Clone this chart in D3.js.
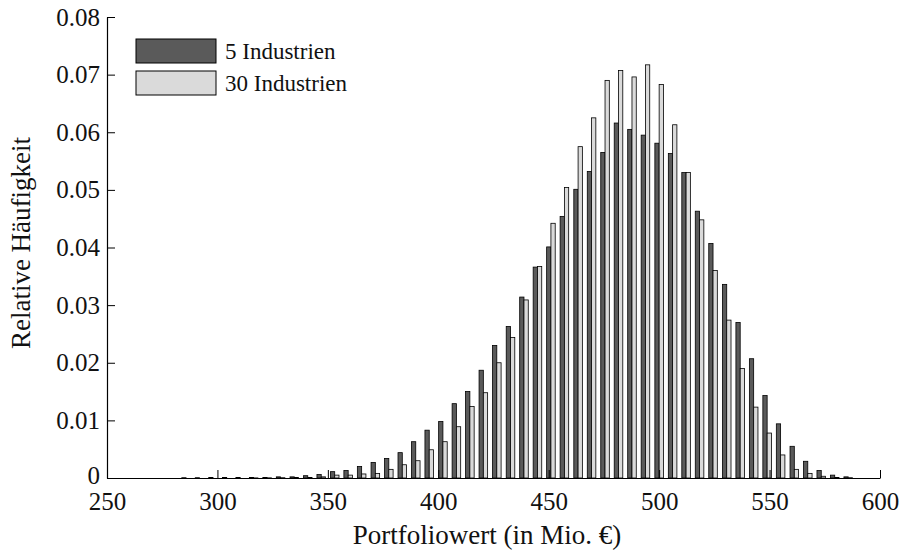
<!DOCTYPE html>
<html>
<head>
<meta charset="utf-8">
<script src="https://cdn.jsdelivr.net/npm/d3@7"></script>
<style>
  body { margin: 0; background: #fff; }
  svg { display: block; font-family: "Liberation Serif", serif; }
</style>
</head>
<body>
<div id="chart"></div>
<script>
// bin centres (Portfoliowert, Mio. EUR)
var binCenters = [285.8, 291.9, 298.0, 304.2, 310.3, 316.4, 322.5, 328.6, 334.8, 340.9,
                  347.0, 353.1, 359.2, 365.3, 371.5, 377.6, 383.7, 389.8, 395.9, 402.1,
                  408.2, 414.3, 420.4, 426.5, 432.7, 438.8, 444.9, 451.0, 457.1, 463.3,
                  469.4, 475.5, 481.6, 487.7, 493.8, 500.0, 506.1, 512.2, 518.3, 524.4,
                  530.6, 536.7, 542.8, 548.9, 555.0, 561.2, 567.3, 573.4, 579.5, 585.6];

var fiveInd = [0.00005, 0.00005, 0.0001, 0.0001, 0.0001, 0.0001, 0.0001, 0.0002, 0.0002, 0.0004,
               0.0006, 0.0011, 0.0013, 0.0020, 0.0027, 0.0034, 0.0044, 0.0063, 0.0083, 0.0098,
               0.0129, 0.0150, 0.0187, 0.0230, 0.0263, 0.0314, 0.0366, 0.0401, 0.0454, 0.0501,
               0.0532, 0.0565, 0.0616, 0.0605, 0.0595, 0.0581, 0.0563, 0.0530, 0.0463, 0.0407,
               0.0336, 0.0270, 0.0207, 0.0143, 0.0094, 0.0055, 0.0029, 0.0013, 0.0005, 0.0002];

var thirtyInd = [0, 0, 0, 0, 0, 0.00002, 0.00003, 0.00005, 0.0001, 0.0001,
                 0.0002, 0.0005, 0.0005, 0.0007, 0.0008, 0.0015, 0.0023, 0.0030, 0.0049, 0.0063,
                 0.0089, 0.0124, 0.0148, 0.0200, 0.0244, 0.0309, 0.0367, 0.0442, 0.0504, 0.0575,
                 0.0625, 0.0690, 0.0707, 0.0696, 0.0717, 0.0683, 0.0613, 0.0530, 0.0448, 0.0360,
                 0.0274, 0.0190, 0.0123, 0.0078, 0.0040, 0.0015, 0.0008, 0.0003, 0.0001, 0.00005];

var seriesNames = ['5 Industrien', '30 Industrien'];
var seriesColors = ['#5a5a5a', '#dadada'];

var xTicks = [250, 300, 350, 400, 450, 500, 550, 600];
var yTicks = [0, 0.01, 0.02, 0.03, 0.04, 0.05, 0.06, 0.07, 0.08];

var W = 901, H = 552;
var margin = {top: 17, right: 21, bottom: 74, left: 107};

var svg = d3.select('#chart').append('svg')
    .attr('width', W)
    .attr('height', H);

var x = d3.scaleLinear()
    .domain([250, 600])
    .range([margin.left, W - margin.right]);

var y = d3.scaleLinear()
    .domain([0, 0.08])
    .range([H - margin.bottom, margin.top]);

var binStep = binCenters[1] - binCenters[0];
var barW = x(binStep * 0.318) - x(0);

var series = [fiveInd, thirtyInd];

series.forEach(function(vals, s) {
    svg.append('g')
        .attr('class', 'bars-' + s)
      .selectAll('rect')
      .data(vals)
      .enter().append('rect')
        .attr('x', function(d, i) { return x(binCenters[i]) + (s - 1) * barW; })
        .attr('y', function(d) { return y(d); })
        .attr('width', barW)
        .attr('height', function(d) { return y(0) - y(d); })
        .attr('fill', seriesColors[s])
        .attr('stroke', '#000')
        .attr('stroke-width', 0.8);
});

// axes, ticks pointing inward
svg.append('g')
    .attr('transform', 'translate(0,' + y(0) + ')')
    .call(d3.axisBottom(x)
        .tickValues(xTicks)
        .tickSize(-8)
        .tickSizeOuter(0)
        .tickPadding(14)
        .tickFormat(d3.format('d')));

var yAxis = svg.append('g')
    .attr('transform', 'translate(' + x(250) + ',0)')
    .call(d3.axisLeft(y)
        .tickValues(yTicks)
        .tickSize(-8)
        .tickSizeOuter(0)
        .tickPadding(7)
        .tickFormat(function(d) { return d === 0 ? '0' : d3.format('.2f')(d); }));

// lift the "0" a little so it clears the "250" below it
yAxis.selectAll('.tick text').filter(function(d) { return d === 0; }).attr('dy', '0.2em');

svg.selectAll('.domain').attr('stroke', '#000').attr('stroke-width', 1.2);
svg.selectAll('.tick line').attr('stroke', '#000').attr('stroke-width', 1);
svg.selectAll('.tick text')
    .attr('fill', '#111')
    .style('font-family', '"Liberation Serif", serif')
    .style('font-size', '25px');

// axis titles
svg.append('text')
    .attr('x', 487)
    .attr('y', 544)
    .attr('text-anchor', 'middle')
    .style('font-size', '27px')
    .attr('fill', '#111')
    .text('Portfoliowert (in Mio. €)');

svg.append('text')
    .attr('transform', 'translate(30,243) rotate(-90)')
    .attr('text-anchor', 'middle')
    .style('font-size', '27px')
    .attr('fill', '#111')
    .text('Relative Häufigkeit');

// legend
var legend = svg.append('g').attr('class', 'legend');
seriesNames.forEach(function(name, i) {
    var gy = 39 + i * 32;
    legend.append('rect')
        .attr('x', 136)
        .attr('y', gy)
        .attr('width', 80)
        .attr('height', 24)
        .attr('fill', seriesColors[i])
        .attr('stroke', '#000')
        .attr('stroke-width', 1);
    legend.append('text')
        .attr('x', 225)
        .attr('y', gy + 12)
        .attr('dy', '0.35em')
        .style('font-size', '23px')
        .attr('fill', '#111')
        .text(name);
});
</script>
</body>
</html>
